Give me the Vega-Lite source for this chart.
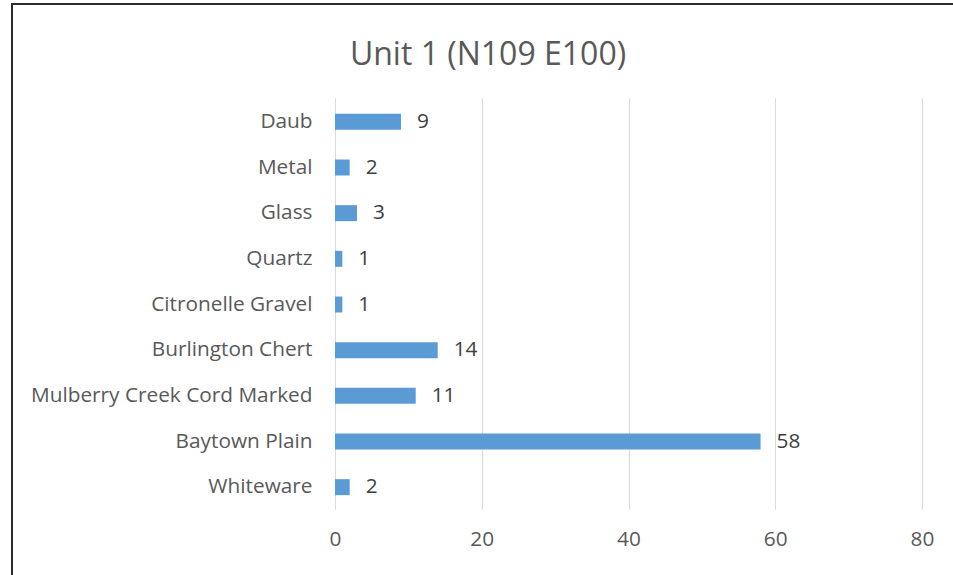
{
  "$schema": "https://vega.github.io/schema/vega-lite/v6.json",
  "autosize": {"type": "none"},
  "padding": {"left": 12, "top": 4, "right": 0, "bottom": 0},
  "width": 952,
  "height": 600,
  "background": "white",
  "title": {
    "text": "Unit 1 (N109 E100)",
    "anchor": "middle",
    "frame": "group",
    "orient": "top",
    "offset": -68,
    "font": "Open Sans",
    "fontSize": 32,
    "fontWeight": "normal",
    "color": "#595959"
  },
  "config": {
    "view": {"stroke": "#2b2b2b", "strokeWidth": 2},
    "font": "Open Sans"
  },
  "data": {
    "values": [
      {"material": "Daub", "count": 9},
      {"material": "Metal", "count": 2},
      {"material": "Glass", "count": 3},
      {"material": "Quartz", "count": 1},
      {"material": "Citronelle Gravel", "count": 1},
      {"material": "Burlington Chert", "count": 14},
      {"material": "Mulberry Creek Cord Marked", "count": 11},
      {"material": "Baytown Plain", "count": 58},
      {"material": "Whiteware", "count": 2}
    ]
  },
  "encoding": {
    "y": {
      "field": "material",
      "type": "nominal",
      "sort": null,
      "scale": {"range": [95, 506], "paddingInner": 0.65, "paddingOuter": 0.325},
      "axis": {
        "title": null,
        "offset": -323,
        "domain": false,
        "ticks": false,
        "labelPadding": 23,
        "labelFont": "Open Sans",
        "labelFontSize": 20.8,
        "labelColor": "#595959",
        "labelLimit": 400
      }
    },
    "x": {
      "field": "count",
      "type": "quantitative",
      "scale": {"domain": [0, 80], "range": [323, 910], "nice": false},
      "axis": {
        "title": null,
        "offset": -94,
        "values": [0, 20, 40, 60, 80],
        "domain": false,
        "ticks": false,
        "grid": true,
        "gridColor": "#d9d9d9",
        "gridWidth": 1,
        "labelFlush": false,
        "labelPadding": 19,
        "labelFont": "Open Sans",
        "labelFontSize": 20.8,
        "labelColor": "#595959"
      }
    }
  },
  "layer": [
    {"mark": {"type": "bar", "color": "#5b9bd5"}},
    {
      "mark": {
        "type": "text",
        "align": "left",
        "baseline": "middle",
        "dx": 16,
        "font": "Open Sans",
        "fontSize": 20.8,
        "color": "#404040"
      },
      "encoding": {"text": {"field": "count", "type": "quantitative"}}
    }
  ]
}
